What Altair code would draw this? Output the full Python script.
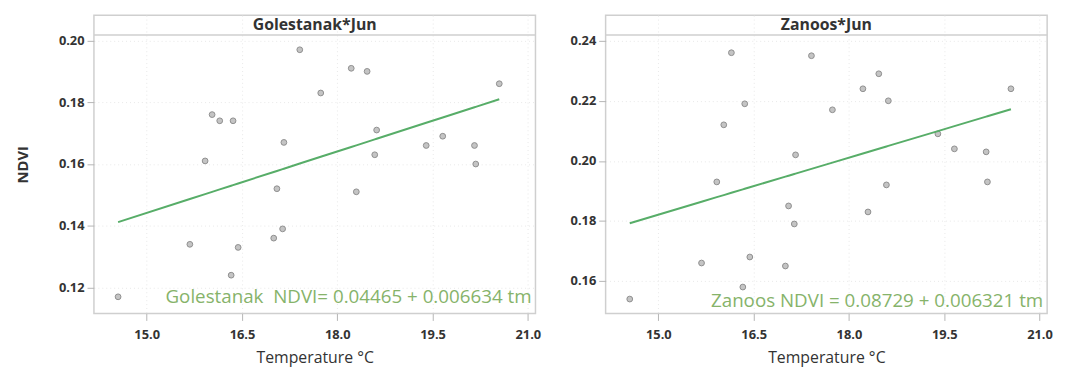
import altair as alt
import pandas as pd

# Shared June temperatures (°C)
temperature = [14.55, 15.68, 15.92, 16.03, 16.15, 16.33, 16.36, 16.44, 17.00, 17.05,
               17.14, 17.16, 17.41, 17.74, 18.22, 18.30, 18.47, 18.59, 18.62, 19.40,
               19.66, 20.16, 20.18, 20.55]
ndvi_golestanak = [0.117, 0.134, 0.161, 0.176, 0.174, 0.124, 0.174, 0.133, 0.136, 0.152,
                   0.139, 0.167, 0.197, 0.183, 0.191, 0.151, 0.190, 0.163, 0.171, 0.166,
                   0.169, 0.166, 0.160, 0.186]
ndvi_zanoos = [0.154, 0.166, 0.193, 0.212, 0.236, 0.158, 0.219, 0.168, 0.165, 0.185,
               0.179, 0.202, 0.235, 0.217, 0.224, 0.183, 0.229, 0.192, 0.220, 0.209,
               0.204, 0.203, 0.193, 0.224]

panel_titles = ["Golestanak*Jun", "Zanoos*Jun"]
intercepts = [0.04465, 0.08729]
slopes = [0.006634, 0.006321]
equations = ["Golestanak\u00a0\u00a0NDVI= 0.04465 + 0.006634 tm",
             "Zanoos NDVI = 0.08729 + 0.006321 tm"]
x_ticks = [15.0, 16.5, 18.0, 19.5, 21.0]
y_ticks_golestanak = [0.12, 0.14, 0.16, 0.18, 0.20]
y_ticks_zanoos = [0.16, 0.18, 0.20, 0.22, 0.24]

W, H = 447, 302
LINE_COLOR = "#57ad68"
TEXT_GREEN = "#86b36a"


def panel(title, values, ydomain, yticks, a, b, eq, eq_y, ytitle):
    df = pd.DataFrame({"Temperature": temperature, "NDVI": values})
    xenc = alt.X("Temperature:Q",
                 scale=alt.Scale(domain=[14.17, 21.12], nice=False, zero=False),
                 axis=alt.Axis(values=x_ticks, format=".1f", title="Temperature °C"))
    yaxis = alt.Axis(values=yticks, format=".2f", title=ytitle) if ytitle else alt.Axis(values=yticks, format=".2f", title=None)
    yenc = alt.Y("NDVI:Q", scale=alt.Scale(domain=ydomain, nice=False, zero=False), axis=yaxis)
    base = alt.Chart(df)
    pts = base.mark_point(shape="circle", filled=True, size=34, fill="#c4c4c4",
                          stroke="#8e8e8e", strokeWidth=1, opacity=1).encode(x=xenc, y=yenc)
    fit = base.transform_calculate(fit=f"{a} + {b} * datum.Temperature").mark_line(
        color=LINE_COLOR, strokeWidth=2).encode(
        x=alt.X("Temperature:Q", sort="ascending"), y=alt.Y("fit:Q"))
    lab = pd.DataFrame({"t": [title], "e": [eq]})
    header_rule = alt.Chart(lab).mark_rule(color="#cfcfcf", strokeWidth=1.5).encode(
        x=alt.value(0), x2=alt.value(W), y=alt.value(20))
    header_text = alt.Chart(lab).mark_text(font="Open Sans", fontSize=16, fontWeight="bold",
                                           color="#333333", baseline="middle").encode(
        text="t:N", x=alt.value(W / 2), y=alt.value(10))
    eq_text = alt.Chart(lab).mark_text(font="Open Sans", fontSize=19, color=TEXT_GREEN,
                                       align="right", baseline="middle").encode(
        text="e:N", x=alt.value(W - 4), y=alt.value(eq_y))
    return alt.layer(pts, fit, header_rule, header_text, eq_text).properties(width=W, height=H)


left = panel(panel_titles[0], ndvi_golestanak, [0.1116, 0.2082], y_ticks_golestanak,
             intercepts[0], slopes[0], equations[0], 285, "NDVI")
right = panel(panel_titles[1], ndvi_zanoos, [0.1492, 0.2485], y_ticks_zanoos,
              intercepts[1], slopes[1], equations[1], 289, None)

chart = alt.hconcat(left, right, spacing=27).properties(
    padding={"left": 7, "top": 4, "right": 5, "bottom": 5}
).configure_view(stroke="#cfcfcf", strokeWidth=1.5).configure_axis(
    grid=True, gridColor="#e8e8e8", gridDash=[1, 3], domain=False,
    tickColor="#b5b5b5", tickSize=7, labelPadding=3,
    labelFont="Open Sans", labelFontWeight="bold", labelFontSize=13, labelColor="#333333",
    titleFont="Open Sans", titleFontSize=16, titleColor="#333333", titleFontWeight="normal"
).configure_axisY(titleFontWeight="bold", titleFontSize=15, titlePadding=28
).configure_axisX(titlePadding=9, labelPadding=8)

chart.save("out.html", embed_options={"renderer": "svg", "actions": False})
